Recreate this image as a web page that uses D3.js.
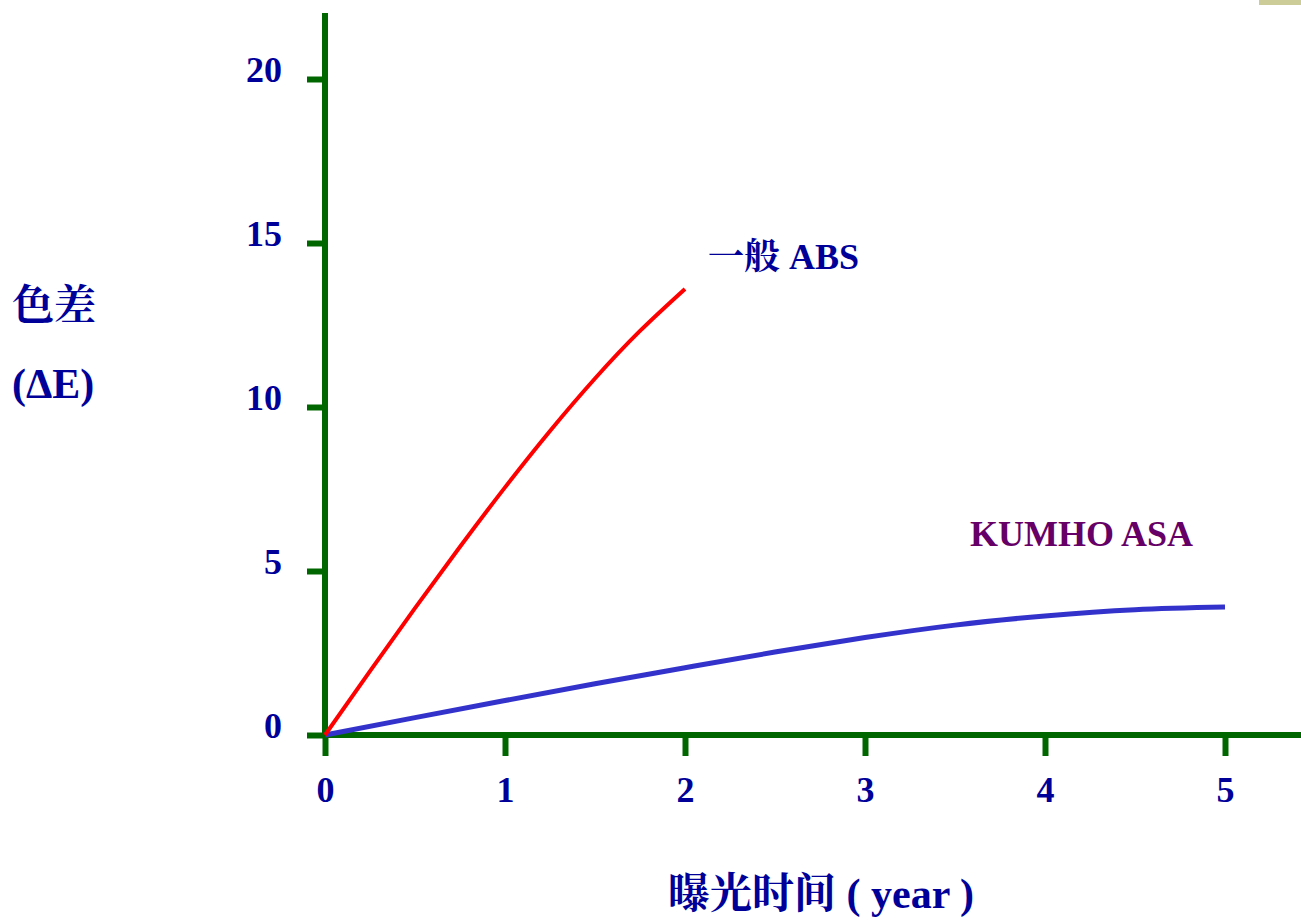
<!DOCTYPE html>
<html>
<head>
<meta charset="utf-8">
<script src="https://cdn.jsdelivr.net/npm/d3@7"></script>
<style>
  html, body { margin: 0; padding: 0; background: #fff; }
  svg { display: block; }
  .txt { font-family: "Liberation Serif", "Noto Serif CJK SC", "Noto Sans CJK SC", serif; font-weight: bold; }
</style>
</head>
<body>
<div id="chart"></div>
<script>
// exposure time (years) and colour difference ΔE
const years = [0, 0.25, 0.5, 0.75, 1, 1.25, 1.5, 1.75, 2];
const absValues = [0, 1.95, 3.87, 5.74, 7.55, 9.27, 10.87, 12.32, 13.6];
const asaYears = [0, 0.5, 1, 1.5, 2, 2.5, 3, 3.5, 4, 4.5, 5];
const asaValues = [0, 0.53, 1.05, 1.56, 2.05, 2.53, 2.97, 3.35, 3.63, 3.82, 3.9];
const xTicks = [0, 1, 2, 3, 4, 5];
const yTicks = [0, 5, 10, 15, 20];

const width = 1301, height = 921;
const axisColor = "#006600", textColor = "#000099";

const svg = d3.select("#chart").append("svg")
  .attr("width", width)
  .attr("height", height);

// small decoration top right
svg.append("rect")
  .attr("x", 1259).attr("y", 0)
  .attr("width", 42).attr("height", 5)
  .attr("fill", "#cccc99");

const x = d3.scaleLinear().domain([0, 5]).range([325, 1225]);
const y = d3.scaleLinear().domain([0, 20]).range([735, 79]);

// axis lines (run past the last tick)
svg.append("line")
  .attr("x1", x(0)).attr("x2", x(0))
  .attr("y1", 13).attr("y2", y(0))
  .attr("stroke", axisColor).attr("stroke-width", 6);
svg.append("line")
  .attr("x1", x(0) - 3).attr("x2", width)
  .attr("y1", y(0)).attr("y2", y(0))
  .attr("stroke", axisColor).attr("stroke-width", 6);

const yAxis = svg.append("g")
  .attr("transform", `translate(${x(0)},0)`)
  .call(d3.axisLeft(y).tickValues(yTicks).tickSize(18).tickPadding(25).tickFormat(d3.format("d")));

const xAxis = svg.append("g")
  .attr("transform", `translate(0,${y(0)})`)
  .call(d3.axisBottom(x).tickValues(xTicks).tickSize(21).tickPadding(20).tickFormat(d3.format("d")));

[yAxis, xAxis].forEach((g) => {
  g.select(".domain").remove();
  g.selectAll(".tick line").attr("stroke", axisColor).attr("stroke-width", 6);
  g.selectAll(".tick text")
    .attr("class", "txt")
    .attr("fill", textColor)
    .style("font-size", "36px");
});
yAxis.selectAll(".tick text").attr("dy", "0.08em");
xAxis.selectAll(".tick text").attr("dy", "0.71em");

const line = d3.line()
  .x((d) => x(d[0]))
  .y((d) => y(d[1]))
  .curve(d3.curveNatural);

svg.append("path")
  .datum(d3.zip(asaYears, asaValues))
  .attr("fill", "none")
  .attr("stroke", "#3333cc")
  .attr("stroke-width", 5)
  .attr("d", line);

svg.append("path")
  .datum(d3.zip(years, absValues))
  .attr("fill", "none")
  .attr("stroke", "#ff0000")
  .attr("stroke-width", 4)
  .attr("d", line);

// labels
const label = (tx, ty, str, size, color) =>
  svg.append("text")
    .attr("class", "txt")
    .attr("x", tx).attr("y", ty)
    .attr("fill", color)
    .style("font-size", size + "px")
    .text(str);

label(708, 269, "一般 ABS", 36, textColor);
label(970, 546, "KUMHO ASA", 36, "#660066");
label(12, 320, "色差", 42, textColor);
label(12, 398, "(ΔE)", 42, textColor);
label(668, 908, "曝光时间 ( year )", 42, textColor);
</script>
</body>
</html>
